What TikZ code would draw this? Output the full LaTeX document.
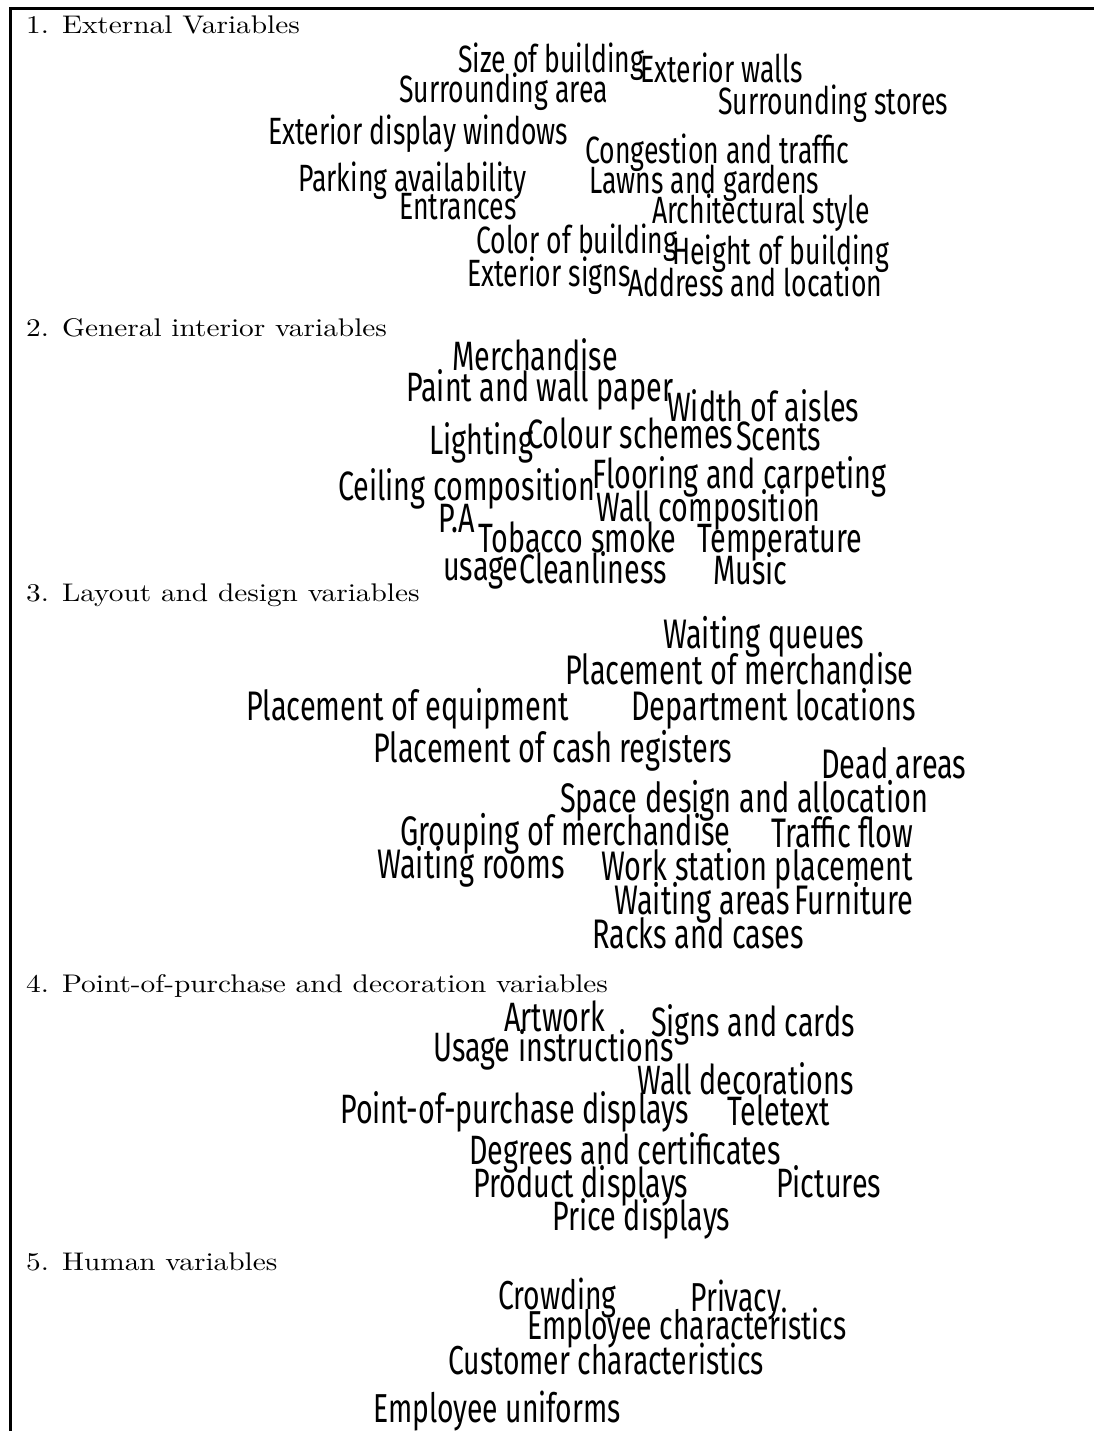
\documentclass[tikz,border=0pt]{standalone}
\usepackage{fontspec}
\newfontfamily\nuvola{Fira Sans}[FakeStretch=0.70]
\newfontfamily\titolo{lmroman10-regular.otf}[FakeStretch=1.15]

\begin{document}
\begin{tikzpicture}[
    x=1pt, y=-1pt,
    parola/.style={anchor=base west, inner sep=0pt,
      font=\nuvola\fontsize{#1}{#1}\selectfont},
    parola/.default=41,
    sezione/.style={anchor=base west, inner sep=0pt,
      font=\titolo\fontsize{25.5}{25.5}\selectfont},
    cornice/.style={line width=3pt},
  ]
  \useasboundingbox (0,0) rectangle (1096,1431);

  % --- la cornice: solo lato sinistro e lato alto ----------------------
  \coordinate (basso) at (10.5,1431);
  \coordinate (angolo) at (10.5,8.5);
  \coordinate (destra) at (1094,8.5);
  \draw[cornice] (basso) -- (angolo) -- (destra);

  % --- i titoli delle cinque sezioni ------------------------------------
  \node[sezione] (sez1) at (26,34) {1. External Variables};
  \node[sezione] (sez2) at (26,336) {2. General interior variables};
  \node[sezione] (sez3) at (26,601) {3. Layout and design variables};
  \node[sezione] (sez4) at (26,992) {4. Point-of-purchase and decoration variables};
  \node[sezione] (sez5) at (26,1270) {5. Human variables};

  % --- 1. variabili esterne --------------------------------------------
  \foreach \x/\y/\t [count=\i] in {
      458/73/Size of building, 640/83/Exterior walls,
      399/103/Surrounding area, 718/115/Surrounding stores,
      268/145/Exterior display windows, 585/164/Congestion and traffic,
      298/192/Parking availability, 589/194/Lawns and gardens,
      399/220/Entrances, 652/224/Architectural style,
      476/254/Color of building, 672/264/Height of building,
      467/287/Exterior signs, 628/296/Address and location}{%
    \node[parola=38] (est\i) at (\x,\y) {\t};
  }

  % --- 2. variabili interne generali -----------------------------------
  \foreach \x/\y/\t [count=\i] in {
      452/370/Merchandise, 406/401/Paint and wall paper,
      667/421/Width of aisles, 429/454/Lighting,
      527/448/Colour schemes, 736/450/Scents,
      338/500/Ceiling composition, 592/488/Flooring and carpeting,
      596/521/Wall composition, 438/532/P.A,
      478/552/Tobacco smoke, 697/552/Temperature,
      443/580/usage, 519/583/Cleanliness,
      713/584/Music}{%
    \node[parola] (int\i) at (\x,\y) {\t};
  }

  % --- 3. layout e design ----------------------------------------------
  \foreach \x/\y/\t [count=\i] in {
      663/648/Waiting queues, 565/684/Placement of merchandise,
      246/720/Placement of equipment, 631/720/Department locations,
      373/762/Placement of cash registers, 821/778/Dead areas,
      560/812/Space design and allocation, 400/845/Grouping of merchandise,
      771/847/Traffic flow, 377/878/Waiting rooms,
      601/880/Work station placement, 614/914/Waiting areas,
      794/914/Furniture, 592/948/Racks and cases}{%
    \node[parola=41.3] (lay\i) at (\x,\y) {\t};
  }

  % --- 4. punto vendita e decorazioni ----------------------------------
  \foreach \x/\y/\t [count=\i] in {
      504/1031/Artwork, 651/1036/Signs and cards,
      433/1061/Usage instructions, 637/1094/Wall decorations,
      340/1123/Point-of-purchase displays, 727/1125/Teletext,
      469/1164/Degrees and certificates, 473/1197/Product displays,
      776/1197/Pictures, 552/1230/Price displays}{%
    \node[parola] (pop\i) at (\x,\y) {\t};
  }

  % --- 5. variabili umane ----------------------------------------------
  \foreach \x/\y/\t [count=\i] in {
      498/1309/Crowding, 690/1311/Privacy,
      527/1339/Employee characteristics,
      448/1374/Customer characteristics,
      373/1422/Employee uniforms}{%
    \node[parola=40.4] (uma\i) at (\x,\y) {\t};
  }

\end{tikzpicture}
\end{document}
